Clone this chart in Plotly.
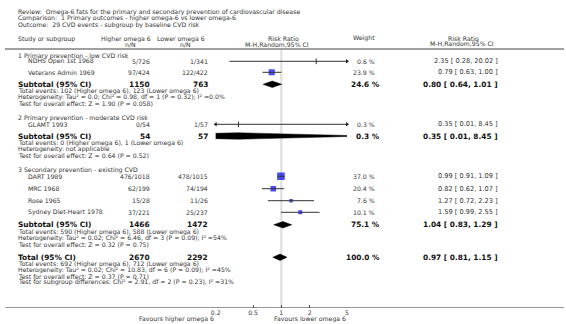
import math
import plotly.graph_objects as go

# ---------------- data ----------------
review_lines = [
    "Review:  Omega-6 fats for the primary and secondary prevention of cardiovascular disease",
    "Comparison:  1 Primary outcomes - higher omega-6 vs lower omega-6",
    "Outcome:  29 CVD events - subgroup by baseline CVD risk",
]
group_titles = [
    "1 Primary prevention - low CVD risk",
    "2 Primary prevention - moderate CVD risk",
    "3 Secondary prevention - existing CVD",
]
studies = ["NDHS Open 1st 1968", "Veterans Admin 1969", "GLAMT 1993",
           "DART 1989", "MRC 1968", "Rose 1965", "Sydney Diet-Heart 1978"]
study_group = [0, 0, 1, 2, 2, 2, 2]
high_events = [5, 97, 0, 476, 62, 15, 37]
high_n = [726, 424, 54, 1018, 199, 28, 221]
low_events = [1, 122, 1, 478, 74, 11, 25]
low_n = [341, 422, 57, 1015, 194, 26, 237]
study_weight = [0.6, 23.9, 0.3, 37.0, 20.4, 7.6, 10.1]
study_rr = [2.35, 0.79, 0.35, 0.99, 0.82, 1.27, 1.59]
study_lo = [0.28, 0.63, 0.01, 0.91, 0.62, 0.72, 0.99]
study_hi = [20.02, 1.00, 8.45, 1.09, 1.07, 2.23, 2.55]

sub_high_n = [1150, 54, 1466]
sub_low_n = [763, 57, 1472]
sub_weight = [24.6, 0.3, 75.1]
sub_rr = [0.80, 0.35, 1.04]
sub_lo = [0.64, 0.01, 0.83]
sub_hi = [1.01, 8.45, 1.29]
sub_notes = [
    ["Total events: 102 (Higher omega 6), 123 (Lower omega 6)",
     "Heterogeneity: Tau² = 0.0; Chi² = 0.98, df = 1 (P = 0.32); I² =0.0%",
     "Test for overall effect: Z = 1.90 (P = 0.058)"],
    ["Total events: 0 (Higher omega 6), 1 (Lower omega 6)",
     "Heterogeneity: not applicable",
     "Test for overall effect: Z = 0.64 (P = 0.52)"],
    ["Total events: 590 (Higher omega 6), 588 (Lower omega 6)",
     "Heterogeneity: Tau² = 0.02; Chi² = 6.46, df = 3 (P = 0.09); I² =54%",
     "Test for overall effect: Z = 0.32 (P = 0.75)"],
]
total_high_n = 2670
total_low_n = 2292
total_weight = 100.0
total_rr, total_lo, total_hi = 0.97, 0.81, 1.15
total_notes = [
    "Total events: 692 (Higher omega 6), 712 (Lower omega 6)",
    "Heterogeneity: Tau² = 0.02; Chi² = 10.83, df = 6 (P = 0.09); I² =45%",
    "Test for overall effect: Z = 0.37 (P = 0.71)",
    "Test for subgroup differences: Chi² = 2.91, df = 2 (P = 0.23), I² =31%",
]
tick_vals = [0.2, 0.5, 1, 2, 5]
tick_text = ["0.2", "0.5", "1", "2", "5"]
favours_left = "Favours higher omega 6"
favours_right = "Favours lower omega 6"

# ---------------- layout geometry (pixels) ----------------
W, H = 566, 324
AX_Y = 307.7
X_LEFT, X_RIGHT = 213.3, 346.3
RMIN, RMAX = tick_vals[0], tick_vals[-1]
FONT = "DejaVu Sans"
FS = 6.2
FSB = 7.4
FSCI = 6.6

study_y = [61.3, 72.3, 124.3, 176.3, 188.7, 200.7, 212.3]
group_y = [55.6, 118.3, 170.3]
sub_y = [84.3, 136.0, 224.8]
total_y = 257.3
NOTE_DY = 6.25

COL_NAME = 12.7
COL_STUDY = 23.3
COL_HIGH = 147.0
COL_LOW = 205.7
COL_W = 374.7
COL_WB = 379.5
COL_CI = 499.0

annotations = []


def txt(x, y, s, size=FS, bold=False, anchor="left", color="#333333"):
    annotations.append(dict(
        x=x / W, y=1 - y / H, xref="paper", yref="paper", text=s, showarrow=False,
        xanchor=anchor, yanchor="middle", borderpad=0, borderwidth=0,
        font=dict(family=FONT, size=size, color=color,
                  weight=700 if bold else 400)))


def ci_text(r, lo, hi):
    return f"{r:.2f} [ {lo:.2f}, {hi:.2f} ]"


# header
for i, line in enumerate(review_lines):
    txt(COL_NAME, 12.0 + i * 6.3, line)
txt(COL_NAME, 38.8, "Study or subgroup")
txt(122.5, 38.8, "Higher omega 6", anchor="center")
txt(127.5, 44.3, "n/N", anchor="center")
txt(178.3, 38.8, "Lower omega 6", anchor="center")
txt(182.5, 44.3, "n/N", anchor="center")
txt(281.8, 38.8, "Risk Ratio", anchor="center")
txt(275.7, 44.3, "M-H,Random,95% CI", anchor="center")
txt(COL_W, 38.3, "Weight", anchor="right")
txt(464.0, 38.3, "Risk Ratio", anchor="center")
txt(463.0, 43.8, "M-H,Random,95% CI", anchor="center")

# groups
for g in range(3):
    txt(COL_NAME, group_y[g], group_titles[g])
    txt(COL_NAME, sub_y[g], "Subtotal (95% CI)", size=FSB, bold=True, color="#111111")
    txt(COL_HIGH, sub_y[g], str(sub_high_n[g]), size=FSB, bold=True, anchor="right", color="#111111")
    txt(COL_LOW, sub_y[g], str(sub_low_n[g]), size=FSB, bold=True, anchor="right", color="#111111")
    txt(COL_WB, sub_y[g], f"{sub_weight[g]:.1f} %", size=FSB, bold=True, anchor="right", color="#111111")
    txt(COL_CI, sub_y[g], ci_text(sub_rr[g], sub_lo[g], sub_hi[g]), size=FSB, bold=True,
        anchor="right", color="#111111")
    for k, note in enumerate(sub_notes[g]):
        txt(COL_NAME, sub_y[g] + 6.8 + k * NOTE_DY, note)

for i, s in enumerate(studies):
    y = study_y[i]
    txt(COL_STUDY, y, s)
    txt(COL_HIGH, y, f"{high_events[i]}/{high_n[i]}", anchor="right")
    txt(COL_LOW, y, f"{low_events[i]}/{low_n[i]}", anchor="right")
    txt(COL_W, y, f"{study_weight[i]:.1f} %", anchor="right")
    txt(COL_CI, y, ci_text(study_rr[i], study_lo[i], study_hi[i]), size=FSCI, anchor="right")

txt(COL_NAME, total_y, "Total (95% CI)", size=FSB, bold=True, color="#111111")
txt(COL_HIGH, total_y, str(total_high_n), size=FSB, bold=True, anchor="right", color="#111111")
txt(COL_LOW, total_y, str(total_low_n), size=FSB, bold=True, anchor="right", color="#111111")
txt(COL_WB, total_y, f"{total_weight:.1f} %", size=FSB, bold=True, anchor="right", color="#111111")
txt(COL_CI, total_y, ci_text(total_rr, total_lo, total_hi), size=FSB, bold=True,
    anchor="right", color="#111111")
for k, note in enumerate(total_notes):
    txt(COL_NAME, total_y + 6.2 + k * NOTE_DY, note)

txt(174.0, 319.3, favours_left, anchor="center")
txt(308.7, 319.3, favours_right, anchor="center")

# ---------------- marks ----------------
fig = go.Figure()

# squares (drawn first, CI lines on top)
sq_x, sq_y, sq_s = [], [], []
tk_x, tk_y = [], []
for i in range(len(studies)):
    if study_weight[i] >= 1:
        sq_x.append(study_rr[i]); sq_y.append(study_y[i])
        sq_s.append(1.25 * math.sqrt(study_weight[i]))
    else:
        tk_x.append(study_rr[i]); tk_y.append(study_y[i])
fig.add_trace(go.Scatter(x=sq_x, y=sq_y, mode="markers",
                         marker=dict(symbol="square", size=sq_s, color="#0000f0",
                                     line=dict(width=0)),
                         hoverinfo="skip"))

# CI lines
lx, ly = [], []
for i in range(len(studies)):
    lx += [study_lo[i], study_hi[i], None]
    ly += [study_y[i], study_y[i], None]
fig.add_trace(go.Scatter(x=lx, y=ly, mode="lines", line=dict(color="#333333", width=1),
                         hoverinfo="skip"))

# tiny-weight estimate ticks
fig.add_trace(go.Scatter(x=tk_x, y=tk_y, mode="markers",
                         marker=dict(symbol="line-ns", size=4,
                                     line=dict(width=1, color="#333333")),
                         hoverinfo="skip"))

# arrows for CIs beyond the axis range
ar_x, ar_y, ar_sym = [], [], []
for i in range(len(studies)):
    if study_lo[i] < RMIN:
        ar_x.append(RMIN); ar_y.append(study_y[i]); ar_sym.append("triangle-left")
    if study_hi[i] > RMAX:
        ar_x.append(RMAX); ar_y.append(study_y[i]); ar_sym.append("triangle-right")
fig.add_trace(go.Scatter(x=ar_x, y=ar_y, mode="markers", cliponaxis=False,
                         marker=dict(symbol=ar_sym, size=4, color="#222222",
                                     line=dict(width=0)),
                         hoverinfo="skip"))

# diamonds
DH = 3.2
for est, lo, hi, y in list(zip(sub_rr, sub_lo, sub_hi, sub_y)) + [(total_rr, total_lo, total_hi, total_y)]:
    fig.add_trace(go.Scatter(x=[lo, est, hi, est, lo], y=[y, y - DH, y, y + DH, y],
                             mode="lines", fill="toself", fillcolor="#000000",
                             line=dict(color="#000000", width=0.5), hoverinfo="skip"))

shapes = [
    dict(type="line", xref="x", yref="y", x0=1, x1=1, y0=50, y1=AX_Y,
         line=dict(color="#dcdcdc", width=2), layer="below"),
    dict(type="line", xref="paper", yref="y", x0=0, x1=1, y0=49, y1=49,
         line=dict(color="#a0a0a0", width=2)),
    dict(type="line", xref="paper", yref="y", x0=0, x1=1, y0=AX_Y, y1=AX_Y,
         line=dict(color="#555555", width=1)),
]

fig.update_layout(
    width=W, height=H, autosize=False,
    margin=dict(l=0, r=0, t=0, b=0, pad=0),
    paper_bgcolor="white", plot_bgcolor="white",
    showlegend=False,
    annotations=annotations,
    shapes=shapes,
    xaxis=dict(type="log", domain=[X_LEFT / W, X_RIGHT / W],
               range=[math.log10(RMIN), math.log10(RMAX)],
               tickvals=tick_vals, ticktext=tick_text,
               ticks="inside", ticklen=3, tickcolor="#555555", tickwidth=1,
               tickfont=dict(family=FONT, size=FS, color="#333333"),
               showgrid=False, zeroline=False, showline=False, fixedrange=True),
    yaxis=dict(domain=[1 - AX_Y / H, 1], range=[AX_Y, 0], visible=False,
               showgrid=False, zeroline=False, fixedrange=True),
)

fig.write_html(
    "out.html",
    config={"displayModeBar": False},
    post_script="document.body.style.margin='0';document.body.style.overflow='hidden';",
)
